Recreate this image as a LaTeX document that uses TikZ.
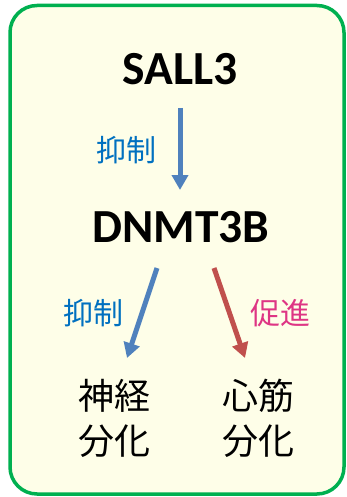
\documentclass[tikz,border=0pt]{standalone}
\usepackage{fontspec}
\setmainfont{Carlito}
\newfontfamily\jp{Noto Sans CJK JP}
\usetikzlibrary{arrows.meta}
\definecolor{boxgreen}{HTML}{00B050}
\definecolor{boxfill}{HTML}{FEFEE8}
\definecolor{arrblue}{HTML}{4F81BD}
\definecolor{arrred}{HTML}{C0504D}
\definecolor{lblblue}{HTML}{0070C0}
\definecolor{lblpink}{HTML}{DE3584}
\tikzset{
  gene/.style={font=\fontsize{47.5}{50}\selectfont\bfseries, inner sep=0pt, anchor=center},
  fate/.style={font=\jp\fontsize{36}{45}\selectfont, inner sep=0pt, align=center, anchor=center},
  lbl/.style={font=\jp\fontsize{30}{32}\selectfont, inner sep=0pt, anchor=center},
  bigarrow/.style={line width=5pt, -{Triangle[length=15pt,width=16pt]}},
}
\begin{document}
\begin{tikzpicture}[x=1pt,y=-1pt]
\useasboundingbox (0,0) rectangle (347,497);
\draw[boxgreen, line width=3.5pt, fill=boxfill, rounded corners=27pt] (10,5.5) rectangle (344,494);
\node[gene] (s) at (180,69) {SALL3};
\node[gene] (d) at (181,227) {DNMT3B};
\node[fate] (n) at (114,418) {神経\\分化};
\node[fate] (c) at (258,418) {心筋\\分化};
\node[lbl, text=lblblue] (l1) at (126,150) {抑制};
\node[lbl, text=lblblue] (l2) at (93,313) {抑制};
\node[lbl, text=lblpink] (l3) at (280,313) {促進};
\coordinate (a1s) at (180,108);
\coordinate (a1e) at (180,190);
\coordinate (a2s) at (157,268);
\coordinate (a2e) at (127,358);
\coordinate (a3s) at (214,268);
\coordinate (a3e) at (245,358);
\draw[bigarrow, arrblue] (a1s) -- (a1e);
\draw[bigarrow, arrblue] (a2s) -- (a2e);
\draw[bigarrow, arrred] (a3s) -- (a3e);
\end{tikzpicture}
\end{document}
